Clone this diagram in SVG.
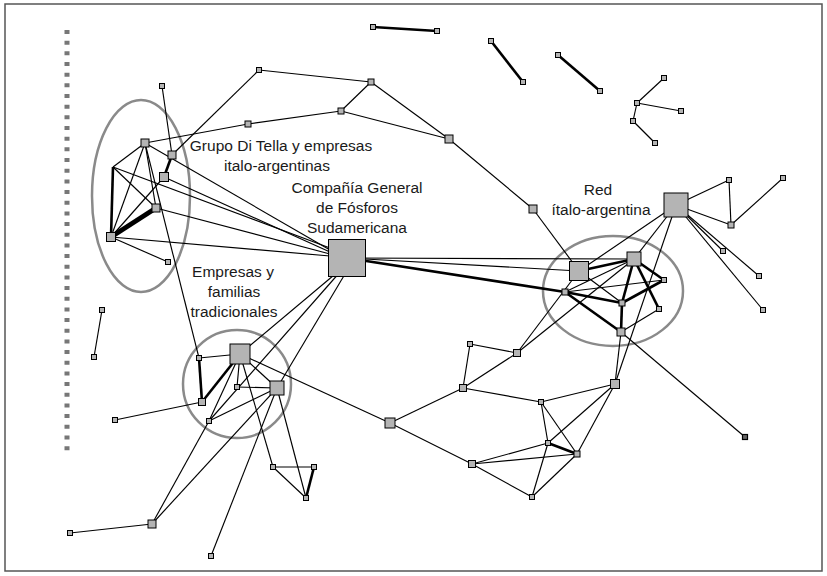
<svg xmlns="http://www.w3.org/2000/svg" width="827" height="576" viewBox="0 0 827 576">
<style>
.e{stroke:#000;stroke-width:1.15;fill:none}
.t{stroke:#000;stroke-width:2.6;fill:none}
.w{stroke:#000;stroke-width:5;fill:none}
.n{fill:#b4b4b4;stroke:#000;stroke-width:1}
.d{fill:#666;stroke:#000;stroke-width:1.2}
.g{fill:none;stroke:#8a8a8a;stroke-width:2.5}
.lb{font-family:"Liberation Sans",Arial,sans-serif;font-size:15.5px;fill:#1a1a1a;text-anchor:middle}
</style>
<rect x="5" y="4" width="817" height="567" fill="#fff" stroke="#555" stroke-width="1.5"/>
<line x1="67" y1="30" x2="67" y2="452" stroke="#777" stroke-width="5" stroke-dasharray="4 6.67"/>
<g id="groups">
<ellipse class="g" cx="141" cy="196" rx="49" ry="96"/>
<circle class="g" cx="237" cy="384" r="54"/>
<ellipse class="g" cx="613" cy="291" rx="70" ry="55"/>
</g>
<g id="connectors">
<line class="e" x1="162" y1="86" x2="172" y2="155"/>
<line class="e" x1="172" y1="155" x2="259" y2="70"/>
<line class="e" x1="259" y1="70" x2="371" y2="82"/>
<line class="e" x1="145" y1="143" x2="248" y2="124"/>
<line class="e" x1="248" y1="124" x2="341" y2="111"/>
<line class="e" x1="341" y1="111" x2="371" y2="82"/>
<line class="e" x1="371" y1="82" x2="449" y2="139"/>
<line class="e" x1="341" y1="111" x2="449" y2="139"/>
<line class="e" x1="449" y1="139" x2="533" y2="209"/>
<line class="e" x1="533" y1="209" x2="579" y2="271"/>
<line class="e" x1="113" y1="167" x2="145" y2="143"/>
<line class="e" x1="145" y1="143" x2="111" y2="237"/>
<line class="e" x1="145" y1="143" x2="156" y2="208"/>
<line class="e" x1="145" y1="143" x2="199" y2="358"/>
<line class="e" x1="164" y1="177" x2="111" y2="237"/>
<line class="e" x1="113" y1="167" x2="156" y2="208"/>
<line class="e" x1="111" y1="237" x2="168" y2="262"/>
<line class="e" x1="145" y1="143" x2="330" y2="250"/>
<line class="e" x1="113" y1="167" x2="330" y2="248"/>
<line class="e" x1="164" y1="177" x2="330" y2="252"/>
<line class="e" x1="156" y1="208" x2="330" y2="254"/>
<line class="e" x1="111" y1="237" x2="330" y2="256"/>
<line class="t" x1="113" y1="167" x2="111" y2="237"/>
<line class="t" x1="172" y1="155" x2="164" y2="177"/>
<line class="w" x1="111" y1="237" x2="156" y2="208"/>
<line class="e" x1="102" y1="310" x2="94" y2="357"/>
<line class="e" x1="347" y1="258" x2="634" y2="259"/>
<line class="e" x1="347" y1="258" x2="579" y2="271"/>
<line class="t" x1="347" y1="258" x2="565" y2="292"/>
<line class="e" x1="340" y1="270" x2="240" y2="354"/>
<line class="e" x1="340" y1="272" x2="209" y2="421"/>
<line class="e" x1="345" y1="274" x2="277" y2="388"/>
<line class="e" x1="579" y1="271" x2="676" y2="205"/>
<line class="e" x1="634" y1="259" x2="676" y2="205"/>
<line class="e" x1="634" y1="259" x2="565" y2="292"/>
<line class="e" x1="565" y1="292" x2="664" y2="280"/>
<line class="e" x1="579" y1="271" x2="622" y2="303"/>
<line class="e" x1="621" y1="332" x2="659" y2="309"/>
<line class="e" x1="676" y1="205" x2="615" y2="384"/>
<line class="e" x1="621" y1="332" x2="615" y2="384"/>
<line class="e" x1="621" y1="332" x2="745" y2="437"/>
<line class="e" x1="517" y1="353" x2="579" y2="271"/>
<line class="e" x1="517" y1="353" x2="634" y2="259"/>
<line class="t" x1="579" y1="271" x2="634" y2="259"/>
<line class="t" x1="634" y1="259" x2="664" y2="280"/>
<line class="t" x1="634" y1="259" x2="659" y2="309"/>
<line class="t" x1="634" y1="259" x2="622" y2="303"/>
<line class="t" x1="565" y1="292" x2="622" y2="303"/>
<line class="t" x1="565" y1="292" x2="621" y2="332"/>
<line class="t" x1="622" y1="303" x2="621" y2="332"/>
<line class="t" x1="622" y1="303" x2="664" y2="280"/>
<line class="e" x1="676" y1="205" x2="729" y2="180"/>
<line class="e" x1="729" y1="180" x2="731" y2="225"/>
<line class="e" x1="783" y1="178" x2="731" y2="225"/>
<line class="e" x1="676" y1="205" x2="731" y2="225"/>
<line class="e" x1="676" y1="205" x2="723" y2="251"/>
<line class="e" x1="676" y1="205" x2="759" y2="276"/>
<line class="e" x1="676" y1="205" x2="763" y2="310"/>
<line class="t" x1="373" y1="27" x2="437" y2="31"/>
<line class="t" x1="491" y1="41" x2="523" y2="82"/>
<line class="t" x1="558" y1="55" x2="600" y2="91"/>
<line class="e" x1="637" y1="103" x2="664" y2="78"/>
<line class="e" x1="637" y1="103" x2="681" y2="111"/>
<line class="e" x1="637" y1="103" x2="633" y2="121"/>
<line class="e" x1="633" y1="121" x2="655" y2="143"/>
<line class="e" x1="517" y1="353" x2="470" y2="344"/>
<line class="e" x1="470" y1="344" x2="463" y2="388"/>
<line class="e" x1="463" y1="388" x2="517" y2="353"/>
<line class="e" x1="463" y1="388" x2="390" y2="423"/>
<line class="e" x1="463" y1="388" x2="541" y2="402"/>
<line class="e" x1="390" y1="423" x2="472" y2="464"/>
<line class="e" x1="390" y1="423" x2="240" y2="354"/>
<line class="e" x1="472" y1="464" x2="548" y2="443"/>
<line class="e" x1="472" y1="464" x2="577" y2="454"/>
<line class="e" x1="472" y1="464" x2="532" y2="497"/>
<line class="e" x1="532" y1="497" x2="548" y2="443"/>
<line class="e" x1="532" y1="497" x2="577" y2="454"/>
<line class="e" x1="541" y1="402" x2="548" y2="443"/>
<line class="e" x1="541" y1="402" x2="577" y2="454"/>
<line class="e" x1="548" y1="443" x2="615" y2="384"/>
<line class="e" x1="577" y1="454" x2="615" y2="384"/>
<line class="e" x1="541" y1="402" x2="615" y2="384"/>
<line class="t" x1="548" y1="443" x2="577" y2="454"/>
<line class="e" x1="240" y1="354" x2="199" y2="358"/>
<line class="e" x1="240" y1="354" x2="237" y2="387"/>
<line class="e" x1="240" y1="354" x2="277" y2="388"/>
<line class="e" x1="237" y1="387" x2="277" y2="388"/>
<line class="e" x1="277" y1="388" x2="209" y2="421"/>
<line class="e" x1="277" y1="388" x2="152" y2="524"/>
<line class="e" x1="209" y1="421" x2="152" y2="524"/>
<line class="e" x1="152" y1="524" x2="70" y2="533"/>
<line class="e" x1="202" y1="402" x2="115" y2="420"/>
<line class="e" x1="277" y1="388" x2="211" y2="556"/>
<line class="e" x1="240" y1="354" x2="273" y2="467"/>
<line class="e" x1="277" y1="388" x2="306" y2="498"/>
<line class="e" x1="273" y1="467" x2="314" y2="467"/>
<line class="e" x1="273" y1="467" x2="306" y2="498"/>
<line class="t" x1="314" y1="467" x2="306" y2="498"/>
<line class="t" x1="199" y1="358" x2="202" y2="402"/>
<line class="t" x1="240" y1="354" x2="202" y2="402"/>
<line class="e" x1="240" y1="354" x2="209" y2="421" stroke-width="1.6"/>
</g>
<g id="cgfs"><rect class="n" x="328.5" y="239.5" width="37" height="37"/></g>
<g id="n-a"><rect class="n" x="256.5" y="67.5" width="5" height="5"/></g>
<g id="n-t1"><rect class="n" x="159.5" y="83.5" width="5" height="5"/></g>
<g id="n-w1"><rect class="n" x="245" y="121" width="6" height="6"/></g>
<g id="n-l1"><rect class="n" x="141" y="139" width="8" height="8"/></g>
<g id="n-l2"><rect class="n" x="168" y="151" width="8" height="8"/></g>
<g id="n-l3"><rect class="n" x="159.5" y="172.5" width="9" height="9"/></g>
<g id="n-l4"><rect class="n" x="152" y="204" width="8" height="8"/></g>
<g id="n-l5"><rect class="n" x="106.5" y="232.5" width="9" height="9"/></g>
<g id="n-l6"><rect class="n" x="165.5" y="259.5" width="5" height="5"/></g>
<g id="n-p1"><rect class="n" x="99.5" y="307.5" width="5" height="5"/></g>
<g id="n-p2"><rect class="n" x="91.5" y="354.5" width="5" height="5"/></g>
<g id="n-c"><rect class="n" x="338" y="108" width="6" height="6"/></g>
<g id="n-d"><rect class="n" x="368" y="79" width="6" height="6"/></g>
<g id="n-e"><rect class="n" x="445" y="135" width="8" height="8"/></g>
<g id="n-f"><rect class="n" x="529" y="205" width="8" height="8"/></g>
<g id="n-i1"><rect class="n" x="370.5" y="24.5" width="5" height="5"/></g>
<g id="n-i2"><rect class="n" x="434.5" y="28.5" width="5" height="5"/></g>
<g id="n-i3"><rect class="n" x="488.5" y="38.5" width="5" height="5"/></g>
<g id="n-i4"><rect class="n" x="520.5" y="79.5" width="5" height="5"/></g>
<g id="n-i5"><rect class="n" x="555.5" y="52.5" width="5" height="5"/></g>
<g id="n-i6"><rect class="n" x="597.5" y="88.5" width="5" height="5"/></g>
<g id="n-s1"><rect class="n" x="634.5" y="100.5" width="5" height="5"/></g>
<g id="n-s2"><rect class="n" x="661.5" y="75.5" width="5" height="5"/></g>
<g id="n-s3"><rect class="n" x="678.5" y="108.5" width="5" height="5"/></g>
<g id="n-s4"><rect class="n" x="630.5" y="118.5" width="5" height="5"/></g>
<g id="n-s5"><rect class="n" x="652.5" y="140.5" width="5" height="5"/></g>
<g id="n-r1"><rect class="n" x="664" y="193" width="24" height="24"/></g>
<g id="n-r2"><rect class="n" x="726.5" y="177.5" width="5" height="5"/></g>
<g id="n-r3"><rect class="n" x="780.5" y="175.5" width="5" height="5"/></g>
<g id="n-r4"><rect class="n" x="728" y="222" width="6" height="6"/></g>
<g id="n-r5"><rect class="n" x="720.5" y="248.5" width="5" height="5"/></g>
<g id="n-r6"><rect class="n" x="756.5" y="273.5" width="5" height="5"/></g>
<g id="n-r7"><rect class="n" x="760.5" y="307.5" width="5" height="5"/></g>
<g id="n-n1"><rect class="n" x="569.5" y="261.5" width="19" height="19"/></g>
<g id="n-n2"><rect class="n" x="627" y="252" width="14" height="14"/></g>
<g id="n-n3"><rect class="n" x="562" y="289" width="6" height="6"/></g>
<g id="n-n4"><rect class="n" x="661.5" y="277.5" width="5" height="5"/></g>
<g id="n-n5"><rect class="n" x="619" y="300" width="6" height="6"/></g>
<g id="n-n6"><rect class="n" x="656.5" y="306.5" width="5" height="5"/></g>
<g id="n-n7"><rect class="n" x="617" y="328" width="8" height="8"/></g>
<g id="n-n8"><rect class="n" x="610.5" y="379.5" width="9" height="9"/></g>
<g id="n-q1"><rect class="d" x="742.5" y="434.5" width="5" height="5"/></g>
<g id="n-m1"><rect class="n" x="513.5" y="349.5" width="7" height="7"/></g>
<g id="n-m2"><rect class="n" x="467.5" y="341.5" width="5" height="5"/></g>
<g id="n-m3"><rect class="n" x="459.5" y="384.5" width="7" height="7"/></g>
<g id="n-m4"><rect class="n" x="385" y="418" width="10" height="10"/></g>
<g id="n-m5"><rect class="n" x="468.5" y="460.5" width="7" height="7"/></g>
<g id="n-m6"><rect class="n" x="538.5" y="399.5" width="5" height="5"/></g>
<g id="n-m7"><rect class="n" x="545.5" y="440.5" width="5" height="5"/></g>
<g id="n-m8"><rect class="n" x="574" y="451" width="6" height="6"/></g>
<g id="n-m9"><rect class="n" x="529.5" y="494.5" width="5" height="5"/></g>
<g id="n-bbig"><rect class="n" x="230" y="344" width="20" height="20"/></g>
<g id="n-b1"><rect class="n" x="196.5" y="355.5" width="5" height="5"/></g>
<g id="n-b2"><rect class="n" x="198.5" y="398.5" width="7" height="7"/></g>
<g id="n-b3"><rect class="n" x="234.5" y="384.5" width="5" height="5"/></g>
<g id="n-b4"><rect class="n" x="270" y="381" width="14" height="14"/></g>
<g id="n-b5"><rect class="n" x="206.5" y="418.5" width="5" height="5"/></g>
<g id="n-b6"><rect class="n" x="270.5" y="464.5" width="5" height="5"/></g>
<g id="n-b7"><rect class="n" x="303.5" y="495.5" width="5" height="5"/></g>
<g id="n-b8"><rect class="n" x="311.5" y="464.5" width="5" height="5"/></g>
<g id="n-g1"><rect class="n" x="112.5" y="417.5" width="5" height="5"/></g>
<g id="n-g2"><rect class="n" x="148" y="520" width="8" height="8"/></g>
<g id="n-g3"><rect class="n" x="67.5" y="530.5" width="5" height="5"/></g>
<g id="n-g4"><rect class="n" x="208.5" y="553.5" width="5" height="5"/></g>
<g id="labels">
<text class="lb" x="281" y="151">Grupo Di Tella y empresas</text>
<text class="lb" x="277" y="171">italo-argentinas</text>
<text class="lb" x="357" y="193">Compañía General</text>
<text class="lb" x="357" y="213">de Fósforos</text>
<text class="lb" x="357" y="233">Sudamericana</text>
<text class="lb" x="598" y="195">Red</text>
<text class="lb" x="601" y="215">ítalo-argentina</text>
<text class="lb" x="233" y="277">Empresas y</text>
<text class="lb" x="234" y="297">familias</text>
<text class="lb" x="234" y="317">tradicionales</text>
</g>
</svg>
